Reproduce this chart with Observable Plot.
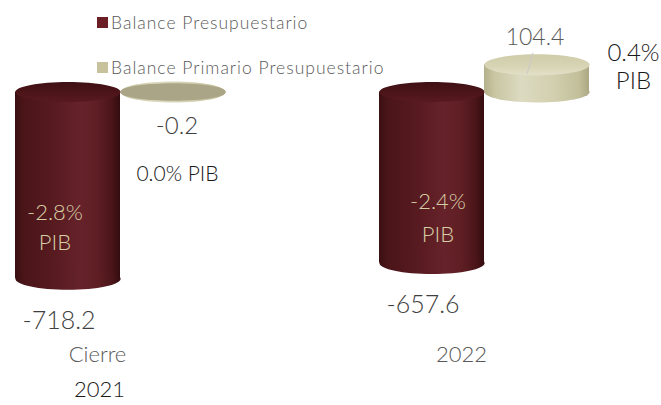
<!DOCTYPE html>
<html><head><meta charset="utf-8">
<script src="https://cdn.jsdelivr.net/npm/d3@7"></script>
<script src="https://cdn.jsdelivr.net/npm/@observablehq/plot@0.6"></script>
<style>
body{margin:0;background:#fff;}
#wrap{position:relative;width:661px;height:405px;overflow:hidden;font-family:Lato,'Open Sans',sans-serif;}
#legend{position:absolute;left:97px;top:11px;font-size:17.5px;font-weight:300;color:#595959;letter-spacing:1px;}
.item{display:flex;align-items:center;height:22px;margin-bottom:23px;white-space:nowrap;}
.sw{width:11px;height:11px;margin-right:3px;flex:none;}
</style></head><body>
<div id="wrap"><div id="chart"></div><div id="legend"></div></div>
<script>
const categories = ["Cierre 2021", "2022"];
const seriesNames = ["Balance Presupuestario", "Balance Primario Presupuestario"];
const balancePresupuestario = [-718.2, -657.6];
const balancePrimario = [-0.2, 104.4];
const pibPresupuestario = [-2.8, -2.4];
const pibPrimario = [0.0, 0.4];
const seriesColors = ["#6b1f25", "#c8c29c"];

const rows = [];
categories.forEach((c, i) => {
  rows.push({category: c, series: seriesNames[0], value: balancePresupuestario[i], pib: pibPresupuestario[i]});
  rows.push({category: c, series: seriesNames[1], value: balancePrimario[i], pib: pibPrimario[i]});
});
rows.forEach(d => { d.lo = Math.min(0, d.value); d.hi = Math.max(0, d.value); });

const red = seriesNames[0], beige = seriesNames[1];
const redRows = rows.filter(d => d.series === red);
const beigeRows = rows.filter(d => d.series === beige);
const beigeNeg = beigeRows.filter(d => d.value < 0);
const beigePos = beigeRows.filter(d => d.value >= 0);

function ell(k) {
  return {draw(ctx, size) {
    const rx = Math.sqrt(size / Math.PI), ry = rx * k, c = 0.5523;
    ctx.moveTo(rx, 0);
    ctx.bezierCurveTo(rx, ry * c, rx * c, ry, 0, ry);
    ctx.bezierCurveTo(-rx * c, ry, -rx, ry * c, -rx, 0);
    ctx.bezierCurveTo(-rx, -ry * c, -rx * c, -ry, 0, -ry);
    ctx.bezierCurveTo(rx * c, -ry, rx, -ry * c, rx, 0);
    ctx.closePath();
  }};
}
const leader = {draw(ctx) { ctx.moveTo(-4, -12); ctx.lineTo(-10, 9); }};

const R = 52.6;
const F = "Lato, 'Open Sans', sans-serif";
const W = 300;
const pct = v => v.toFixed(1) + "%";
const common = {fx: "category", x: "series"};
const red2022 = redRows.filter(d => d.category === categories[1]);

const svg = Plot.plot({
  width: 661, height: 405,
  marginLeft: 15, marginRight: 71, marginTop: 0, marginBottom: 0,
  style: {fontFamily: F, background: "transparent"},
  fx: {domain: categories, paddingInner: 0.4225, paddingOuter: 0, axis: null, label: null},
  x: {domain: seriesNames, paddingInner: 0, paddingOuter: 0, axis: null, label: null},
  y: {domain: [-1000, 350], range: [351.5, 0.5], axis: null},
  marks: [
    // Balance Presupuestario cylinders
    Plot.barY(redRows, {...common, y1: "lo", y2: "hi", fill: "url(#gRedBody)"}),
    Plot.dot(redRows, {...common, y: "lo", r: R, symbol: ell(0.21), fill: "url(#gRedBody)"}),
    Plot.dot(redRows, {...common, y: "hi", r: R, symbol: ell(0.19), fill: "url(#gRedTop)"}),
    // Balance Primario cylinders
    Plot.barY(beigeRows, {...common, y1: "lo", y2: "hi", fill: "url(#gBeigeBody)"}),
    Plot.dot(beigeRows, {...common, y: "lo", r: R, symbol: ell(0.2), fill: "url(#gBeigeBody)"}),
    Plot.dot(beigePos, {...common, y: "hi", r: R, symbol: ell(0.2), fill: "url(#gBeigeTop)"}),
    Plot.dot(beigeNeg, {...common, y: "hi", r: R, symbol: ell(0.165), fill: "#aaa586"}),
    Plot.dot(beigePos, {...common, y: "hi", r: 1, symbol: leader, fill: "none", stroke: "#c9c9c9", strokeWidth: 1}),
    // value labels
    Plot.text(redRows, {...common, y: "value", text: d => d.value.toFixed(1), dx: -9, dy: 42, fontSize: 25, fontWeight: W, fill: "#404040"}),
    Plot.text(beigeNeg, {...common, y: "value", text: d => d.value.toFixed(1), dx: 4, dy: 34, fontSize: 24, fontWeight: W, fill: "#404040"}),
    Plot.text(beigePos, {...common, y: "value", text: d => d.value.toFixed(1), dx: -2, dy: -27, fontSize: 23, fontWeight: W, fill: "#595959"}),
    // % PIB labels
    Plot.text(redRows.filter(d => d.category === categories[0]), {...common, y: d => d.value / 2, text: d => pct(d.pib) + "\nPIB", dx: -13, dy: 40, fontSize: 22, fontWeight: W, lineHeight: 1.38, fill: "#d8cea6"}),
    Plot.text(red2022, {...common, y: d => d.value / 2, text: d => pct(d.pib) + "\nPIB", dx: 6, dy: 37.5, fontSize: 22, fontWeight: W, lineHeight: 1.5, fill: "#d8cea6"}),
    Plot.text(red2022, {...common, y: d => d.value / 2, text: "-", dx: -27, dy: 21, fontSize: 22, fontWeight: W, fill: "#1a0606"}),
    Plot.text(beigeNeg, {...common, y: "value", text: d => pct(d.pib) + " PIB", dx: 4.5, dy: 82.5, fontSize: 21, fontWeight: W, fill: "#1a1a1a"}),
    Plot.text(beigePos, {...common, y: "value", text: d => pct(d.pib) + "\nPIB", dx: 96.5, dy: 1.6, fontSize: 24, fontWeight: W, lineHeight: 1.17, fill: "#1a1a1a"}),
    // category labels
    Plot.text(categories, {fx: d => d, frameAnchor: "bottom", text: d => d.split(" ")[0], dx: -23, dy: -44, fontSize: 22, fontWeight: W, fill: "#595959"}),
    Plot.text(categories.filter(c => c.includes(" ")), {fx: d => d, frameAnchor: "bottom", text: d => d.split(" ")[1], dx: -21, dy: -9, fontSize: 22, fontWeight: W, fill: "#1a1a1a"})
  ]
});

const defs = d3.select(svg).insert("defs", ":first-child");
function lin(id, stops, vertical) {
  const g = defs.append("linearGradient").attr("id", id)
    .attr("x1", 0).attr("y1", 0).attr("x2", vertical ? 0 : 1).attr("y2", vertical ? 1 : 0);
  stops.forEach(([o, c]) => g.append("stop").attr("offset", o).attr("stop-color", c));
}
lin("gRedBody", [[0, "#3a0f12"], [0.08, "#4a1519"], [0.35, "#561a1f"], [0.62, "#66222a"], [0.78, "#5f1e24"], [0.92, "#4a1519"], [1, "#330c0f"]]);
lin("gRedTop", [[0, "#3f1014"], [1, "#58191e"]], true);
lin("gBeigeBody", [[0, "#b4b08b"], [0.1, "#c9c6a3"], [0.35, "#dcdac0"], [0.65, "#d3d0b0"], [0.9, "#c2bf9b"], [1, "#aba783"]]);
lin("gBeigeTop", [[0, "#cfcca9"], [0.6, "#d8d5b6"], [1, "#e2e0c8"]], true);

document.getElementById("chart").appendChild(svg);

const legend = d3.select("#legend");
seriesNames.forEach((s, i) => {
  const it = legend.append("div").attr("class", "item");
  it.append("div").attr("class", "sw").style("background", seriesColors[i]);
  it.append("span").text(s);
});
</script>
</body></html>
